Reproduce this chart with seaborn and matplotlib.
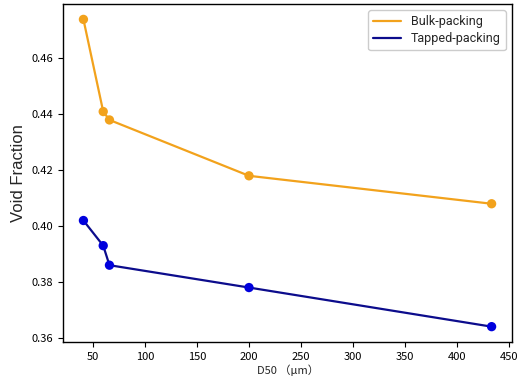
import matplotlib
matplotlib.use("Agg")
import matplotlib.pyplot as plt
import seaborn as sns
import pandas as pd

d50 = [41, 60, 66, 200, 433]
bulk = [0.474, 0.441, 0.438, 0.418, 0.408]
tapped = [0.402, 0.393, 0.386, 0.378, 0.364]
series_names = ["Bulk-packing", "Tapped-packing"]
line_colors = ["#f2a21c", "#0c0c8c"]
marker_colors = ["#f2a21c", "#0000dd"]

sns.set_style("white")
plt.rcParams['font.family'] = ['Noto Sans CJK SC', 'DejaVu Sans']

df = pd.DataFrame({
    "D50": d50 * 2,
    "VF": bulk + tapped,
    "series": [series_names[0]] * len(d50) + [series_names[1]] * len(d50),
})

fig = plt.figure(figsize=(5.23, 3.83), dpi=100)
ax = fig.add_axes([0.1205, 0.107, 0.8585, 0.8825])

sns.lineplot(data=df, x="D50", y="VF", hue="series", palette=line_colors,
             linewidth=1.6, ax=ax, legend=True)
for name, mc in zip(series_names, marker_colors):
    sub = df[df["series"] == name]
    sns.scatterplot(data=sub, x="D50", y="VF", color=mc, s=45,
                    edgecolor="none", ax=ax, legend=False, zorder=3)

ax.set_xticks([50, 100, 150, 200, 250, 300, 350, 400, 450])
ax.set_yticks([0.36, 0.38, 0.40, 0.42, 0.44, 0.46])
ax.set_yticklabels(["0.36", "0.38", "0.40", "0.42", "0.44", "0.46"])
ax.tick_params(axis="both", labelsize=8, length=3.5, width=0.8, direction="out",
               left=True, bottom=True, colors="black")
ax.set_xlabel("D50 （μm）", fontsize=8, labelpad=2)
ax.set_ylabel("Void Fraction", fontsize=12, family="Liberation Sans", labelpad=4)
for s in ax.spines.values():
    s.set_color("black")
    s.set_linewidth(1.0)

leg = ax.legend(loc="upper right", prop={"family": "Roboto", "size": 9},
                frameon=True, fancybox=True, framealpha=1, edgecolor="#cccccc",
                handlelength=2.2, borderpad=0.4, labelspacing=0.3)

fig.savefig("out.png", dpi=100)
